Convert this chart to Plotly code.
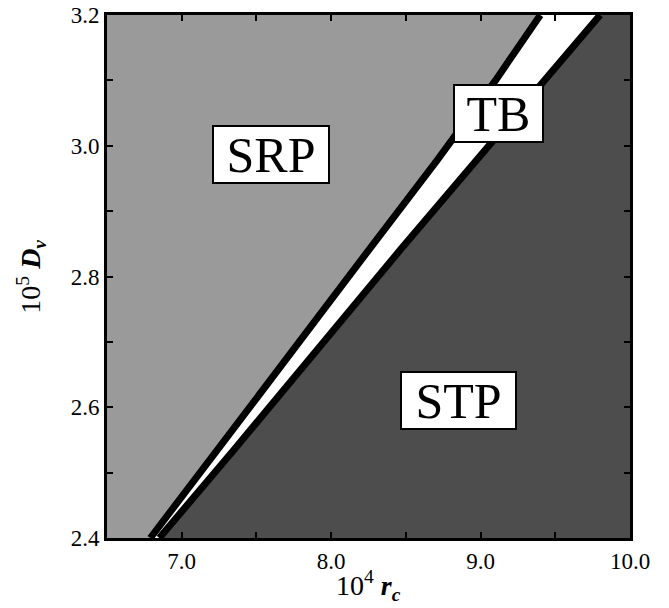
import plotly.graph_objects as go

# Boundary data
D_vals = [2.400, 2.458, 2.535, 2.840, 2.978, 3.100, 3.200]
r_srp_tb = [6.79, 6.98, 7.24, 8.25, 8.71, 9.10, 9.40]   # SRP / TB boundary
r_tb_stp = [6.85, 7.06, 7.35, 8.46, 8.97, 9.43, 9.80]   # TB / STP boundary

x_range = [6.5, 10.0]
y_range = [2.4, 3.2]
x_ticks = [7.0, 8.0, 9.0, 10.0]
x_ticktext = ["7.0", "8.0", "9.0", "10.0"]
y_ticks = [2.4, 2.6, 2.8, 3.0, 3.2]
y_ticktext = ["2.4", "2.6", "2.8", "3.0", "3.2"]

region_labels = ["SRP", "TB", "STP"]
label_r = [7.60, 9.117, 8.85]
label_D = [2.986, 3.050, 2.610]
label_w = [112, 85, 111]

FONT = "Liberation Serif, 'Times New Roman', Times, serif"

fig = go.Figure()

# SRP region (light gray)
fig.add_trace(go.Scatter(
    x=[x_range[0]] + r_srp_tb + [x_range[0]],
    y=[y_range[0]] + D_vals + [y_range[1]],
    fill="toself", fillcolor="#9a9a9a", line=dict(width=0),
    mode="lines", hoverinfo="skip", showlegend=False))

# STP region (dark gray)
fig.add_trace(go.Scatter(
    x=[x_range[1]] + r_tb_stp + [x_range[1]],
    y=[y_range[0]] + D_vals + [y_range[1]],
    fill="toself", fillcolor="#4d4d4d", line=dict(width=0),
    mode="lines", hoverinfo="skip", showlegend=False))

# Boundary lines
for rr in (r_srp_tb, r_tb_stp):
    fig.add_trace(go.Scatter(
        x=rr, y=D_vals, mode="lines",
        line=dict(color="black", width=7),
        hoverinfo="skip", showlegend=False, cliponaxis=False))

for txt, rx, dy, w in zip(region_labels, label_r, label_D, label_w):
    fig.add_annotation(
        x=rx, y=dy, xref="x", yref="y", text=txt, showarrow=False,
        font=dict(family=FONT, size=50, color="black"),
        width=w, height=53, align="center", valign="middle",
        bgcolor="white", bordercolor="black", borderwidth=2, borderpad=1)

# Axis titles
fig.add_annotation(
    x=0.5, y=-0.09, xref="paper", yref="paper", xanchor="center", yanchor="middle",
    text="10<sup>4</sup> <b><i>r</i></b><sub><b><i>c</i></b></sub>",
    showarrow=False, font=dict(family=FONT, size=28, color="black"))
fig.add_annotation(
    x=-0.145, y=0.5, xref="paper", yref="paper", xanchor="center", yanchor="middle",
    text="10<sup>5</sup> <b><i>D</i></b><sub><b><i>v</i></b></sub>", textangle=-90,
    showarrow=False, font=dict(family=FONT, size=28, color="black"))

minor_common = dict(ticks="inside", ticklen=6, tickwidth=2, tickcolor="black", showgrid=False)
axis_common = dict(
    showgrid=False, zeroline=False, showline=True, linecolor="black", linewidth=3,
    mirror="ticks", ticks="inside", ticklen=6, tickwidth=2, tickcolor="black",
    automargin=False,
    tickfont=dict(family=FONT, size=23, color="black"))

fig.update_xaxes(range=x_range, tickvals=x_ticks, ticktext=x_ticktext,
                 minor=dict(dtick=0.5, tick0=6.5, **minor_common), **axis_common)
fig.update_yaxes(range=y_range, tickvals=y_ticks, ticktext=y_ticktext,
                 minor=dict(dtick=0.1, tick0=2.4, **minor_common), **axis_common)

fig.update_layout(
    width=669, height=608,
    margin=dict(l=107, r=39, t=15, b=70, autoexpand=False),
    plot_bgcolor="white", paper_bgcolor="white",
    showlegend=False)

fig.write_html("out.html")
